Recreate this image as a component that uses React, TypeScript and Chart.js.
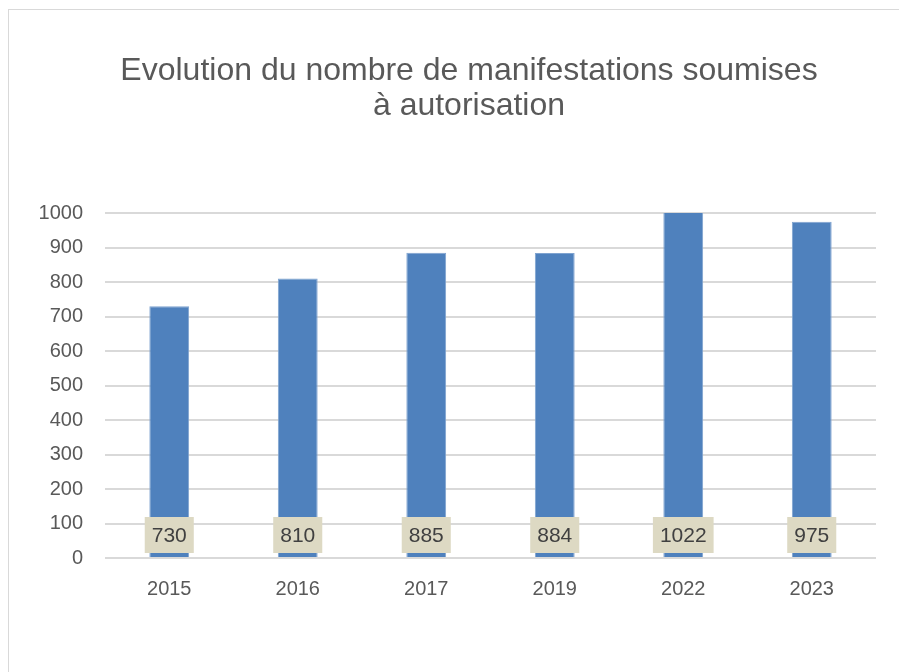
import React, { useEffect, useRef } from "react";
import { Chart, registerables } from "chart.js";

Chart.register(...registerables);

const years = ["2015", "2016", "2017", "2019", "2022", "2023"];
const counts = [730, 810, 885, 884, 1022, 975];
const yTicks = [0, 100, 200, 300, 400, 500, 600, 700, 800, 900, 1000];
const titleLines = ["Evolution du nombre de manifestations soumises", "à autorisation"];

const FONT = "'Liberation Sans', Arial, sans-serif";
const TEXT = "#595959";

const titlePlugin = {
  id: "centeredTitle",
  afterDraw(chart: any) {
    const ctx = chart.ctx;
    ctx.save();
    ctx.font = `32px ${FONT}`;
    ctx.fillStyle = TEXT;
    ctx.textAlign = "center";
    ctx.textBaseline = "middle";
    titleLines.forEach((line, i) => {
      ctx.fillText(line, chart.width / 2, 61 + i * 35);
    });
    ctx.restore();
  },
};

const labelPlugin = {
  id: "baseLabels",
  afterDatasetsDraw(chart: any) {
    const ctx = chart.ctx;
    const meta = chart.getDatasetMeta(0);
    const yScale = chart.scales.y;
    const base = yScale.getPixelForValue(0);
    ctx.save();
    ctx.font = `21px ${FONT}`;
    ctx.textAlign = "center";
    ctx.textBaseline = "middle";
    meta.data.forEach((bar: any, i: number) => {
      const txt = String(counts[i]);
      const w = ctx.measureText(txt).width + 14;
      const h = 36;
      const cy = base - 23;
      ctx.fillStyle = "#DDD9C3";
      ctx.fillRect(bar.x - w / 2, cy - h / 2, w, h);
      ctx.fillStyle = "#404040";
      ctx.fillText(txt, bar.x, cy + 1);
    });
    ctx.restore();
  },
};

export default function App() {
  const ref = useRef<HTMLCanvasElement>(null);
  useEffect(() => {
    const chart = new Chart(ref.current!, {
      type: "bar",
      data: {
        labels: years,
        datasets: [
          {
            data: counts,
            backgroundColor: "#4F81BD",
            borderColor: "#7FA3D0",
            borderWidth: 1,
            barPercentage: 0.31,
            categoryPercentage: 1,
          },
        ],
      },
      options: {
        responsive: false,
        animation: false,
        layout: { padding: { top: 203, right: 53, bottom: 92, left: 0 } },
        plugins: {
          legend: { display: false },
          tooltip: { enabled: false },
          title: { display: false },
        },
        scales: {
          x: {
            grid: { display: false },
            border: { display: false },
            ticks: { color: TEXT, font: { family: FONT, size: 20 }, padding: 11 },
            afterFit(s: any) {
              s.height = 50;
            },
          },
          y: {
            min: 0,
            max: 1000,
            afterBuildTicks(s: any) {
              s.ticks = yTicks.map((v) => ({ value: v }));
            },
            grid: { color: "#D9D9D9", lineWidth: 2, drawTicks: false },
            border: { display: false },
            ticks: {
              color: TEXT,
              font: { family: FONT, size: 20 },
              padding: 22,
              callback: (v: any) => String(v),
            },
            afterFit(s: any) {
              s.width = 96;
            },
          },
        },
      },
      plugins: [labelPlugin, titlePlugin],
    });
    return () => chart.destroy();
  }, []);
  return (
    <div style={{ position: "fixed", left: 0, top: 0, width: 899, height: 672, overflow: "hidden", background: "#fff" }}>
      <div style={{ position: "absolute", left: 8, top: 9, width: 920, height: 690, border: "1px solid #D9D9D9" }}>
        <canvas ref={ref} width={920} height={690} style={{ display: "block" }} />
      </div>
    </div>
  );
}
